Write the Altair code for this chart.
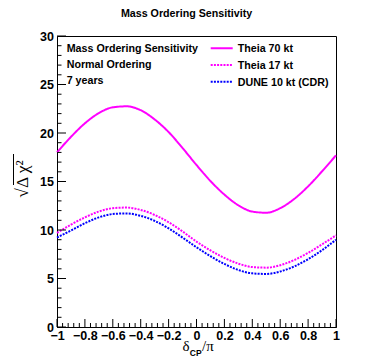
import altair as alt
import pandas as pd

# ---- data ----
delta_cp = [-1.0, -0.9, -0.8, -0.7, -0.6, -0.5, -0.4, -0.3, -0.2, -0.1, 0.0,
            0.1, 0.2, 0.3, 0.4, 0.5, 0.6, 0.7, 0.8, 0.9, 1.0]
theia70 = [18.0, 19.6, 21.0, 22.05, 22.65, 22.75, 22.35, 21.4, 20.1, 18.45, 16.7,
           15.05, 13.65, 12.55, 11.9, 11.78, 12.25, 13.2, 14.5, 16.05, 17.7]
theia17 = [9.7, 10.55, 11.3, 11.9, 12.25, 12.31, 12.07, 11.55, 10.8, 9.85, 8.8,
           7.9, 7.12, 6.53, 6.18, 6.12, 6.37, 6.9, 7.64, 8.52, 9.45]
dune10 = [9.22, 9.95, 10.7, 11.3, 11.65, 11.71, 11.46, 10.94, 10.17, 9.22, 8.22,
          7.3, 6.5, 5.88, 5.53, 5.47, 5.72, 6.24, 6.99, 7.92, 9.0]

series_names = ["Theia 70 kt", "Theia 17 kt", "DUNE 10 kt (CDR)"]
series_colors = ["#ff00ff", "#ff00ff", "#0000ff"]
series_dash = [[1, 0], [2, 1.2], [2, 1.2]]

info_lines = ["Mass Ordering Sensitivity", "Normal Ordering", "7 years"]

x_major = [-1.0, -0.8, -0.6, -0.4, -0.2, 0.0, 0.2, 0.4, 0.6, 0.8, 1.0]
x_minor = [round(-1 + 0.04 * i, 2) for i in range(51) if i % 5 != 0]
y_major = [0, 5, 10, 15, 20, 25, 30]
y_minor = [v for v in range(31) if v % 5 != 0]

# ---- tables ----
rows = []
for name, vals in zip(series_names, [theia70, theia17, dune10]):
    for xv, yv in zip(delta_cp, vals):
        rows.append({"x": xv, "y": yv, "series": name})
df = pd.DataFrame(rows)

W, H = 279, 291
FONT = "Liberation Sans"
SERIF = "Liberation Serif"

xscale = alt.Scale(domain=[-1, 1], nice=False, zero=False)
yscale = alt.Scale(domain=[0, 30], nice=False, zero=False)

xaxis = alt.Axis(values=x_major, format="~g", ticks=False, grid=False,
                 title=None, labelFont=FONT, labelFontWeight="bold",
                 labelFontSize=12.5, labelPadding=2.5, labelColor="black",
                 domainColor="black", labelFlush=False)
yaxis = alt.Axis(values=y_major, ticks=False, grid=False, title=None,
                 labelFont=FONT, labelFontWeight="bold", labelFontSize=12.5,
                 labelPadding=3.5, labelColor="black", domainColor="black",
                 labelFlush=False)

lines = alt.Chart(df).mark_line(strokeWidth=2, interpolate="monotone").encode(
    x=alt.X("x:Q", scale=xscale, axis=xaxis),
    y=alt.Y("y:Q", scale=yscale, axis=yaxis),
    color=alt.Color("series:N", scale=alt.Scale(domain=series_names, range=series_colors),
                    legend=None),
    strokeDash=alt.StrokeDash("series:N",
                              scale=alt.Scale(domain=series_names, range=series_dash),
                              legend=None),
)

def yticks(vals, length):
    d = pd.DataFrame({"v": vals})
    return alt.Chart(d).mark_tick(color="black", thickness=1, size=length,
                                  orient="horizontal", opacity=1).encode(
        y=alt.Y("v:Q", scale=yscale, axis=yaxis),
        x=alt.value(length / 2))

def xticks(vals, length):
    d = pd.DataFrame({"v": vals})
    return alt.Chart(d).mark_tick(color="black", thickness=1, size=length,
                                  orient="vertical", opacity=1).encode(
        x=alt.X("v:Q", scale=xscale, axis=xaxis),
        y=alt.value(H - length / 2))

layers = [lines, yticks(y_major, 9), yticks(y_minor, 4.5),
          xticks(x_major, 8), xticks(x_minor, 4)]

# info text (upper left)
for i, t in enumerate(info_lines):
    layers.append(alt.Chart(pd.DataFrame({"t": [t]})).mark_text(
        font=FONT, fontWeight="bold", fontSize=10.7, align="left",
        baseline="alphabetic", color="black").encode(
        text="t:N", x=alt.value(9.7), y=alt.value(15.5 + 16.4 * i)))

# legend (upper right)
for i, (name, col, dash) in enumerate(zip(series_names, series_colors, series_dash)):
    ly = 12.3 + 16.7 * i
    layers.append(alt.Chart(pd.DataFrame({"t": [name]})).mark_rule(
        color=col, strokeWidth=2, strokeDash=dash).encode(
        x=alt.value(153.7), x2=alt.value(175.7), y=alt.value(ly)))
    layers.append(alt.Chart(pd.DataFrame({"t": [name]})).mark_text(
        font=FONT, fontWeight="bold", fontSize=10.7, align="left",
        baseline="alphabetic", color="black").encode(
        text="t:N", x=alt.value(180.7), y=alt.value(ly + 3.8)))

# x-axis title: delta_CP / pi
layers.append(alt.Chart(pd.DataFrame({"t": ["δ"]})).mark_text(
    font=SERIF, fontSize=15, align="right", baseline="alphabetic", color="black").encode(
    text="t:N", x=alt.value(132.5), y=alt.value(315)))
layers.append(alt.Chart(pd.DataFrame({"t": ["CP"]})).mark_text(
    font=FONT, fontWeight="bold", fontSize=8.5, align="left", baseline="alphabetic",
    color="black").encode(text="t:N", x=alt.value(132.8), y=alt.value(319.5)))
layers.append(alt.Chart(pd.DataFrame({"t": ["/π"]})).mark_text(
    font=SERIF, fontSize=15, align="left", baseline="alphabetic", color="black").encode(
    text="t:N", x=alt.value(145), y=alt.value(315)))

# y-axis title: sqrt(Delta chi^2) with its overline
layers.append(alt.Chart(pd.DataFrame({"t": ["√Δ χ²"]})).mark_text(
    font=SERIF, fontSize=17.5, angle=270, align="center", baseline="middle",
    color="black").encode(text="t:N", x=alt.value(-34), y=alt.value(143)))
layers.append(alt.Chart(pd.DataFrame({"t": ["bar"]})).mark_rule(
    color="black", strokeWidth=1).encode(
    x=alt.value(-43.5), x2=alt.value(-43.5), y=alt.value(118), y2=alt.value(149)))

chart = alt.layer(*layers).properties(
    width=W, height=H,
    title=alt.TitleParams("Mass Ordering Sensitivity", font=FONT, fontWeight="bold",
                          fontSize=10.7, anchor="middle", dx=-10, offset=10,
                          color="black"),
    autosize=alt.AutoSizeParams(type="none"),
    padding={"left": 49, "top": 28, "right": 30, "bottom": 31},
).configure_view(stroke="black", strokeWidth=1).configure_axis(domainWidth=1)

chart.save("out.html", embed_options={"renderer": "svg", "actions": False})
